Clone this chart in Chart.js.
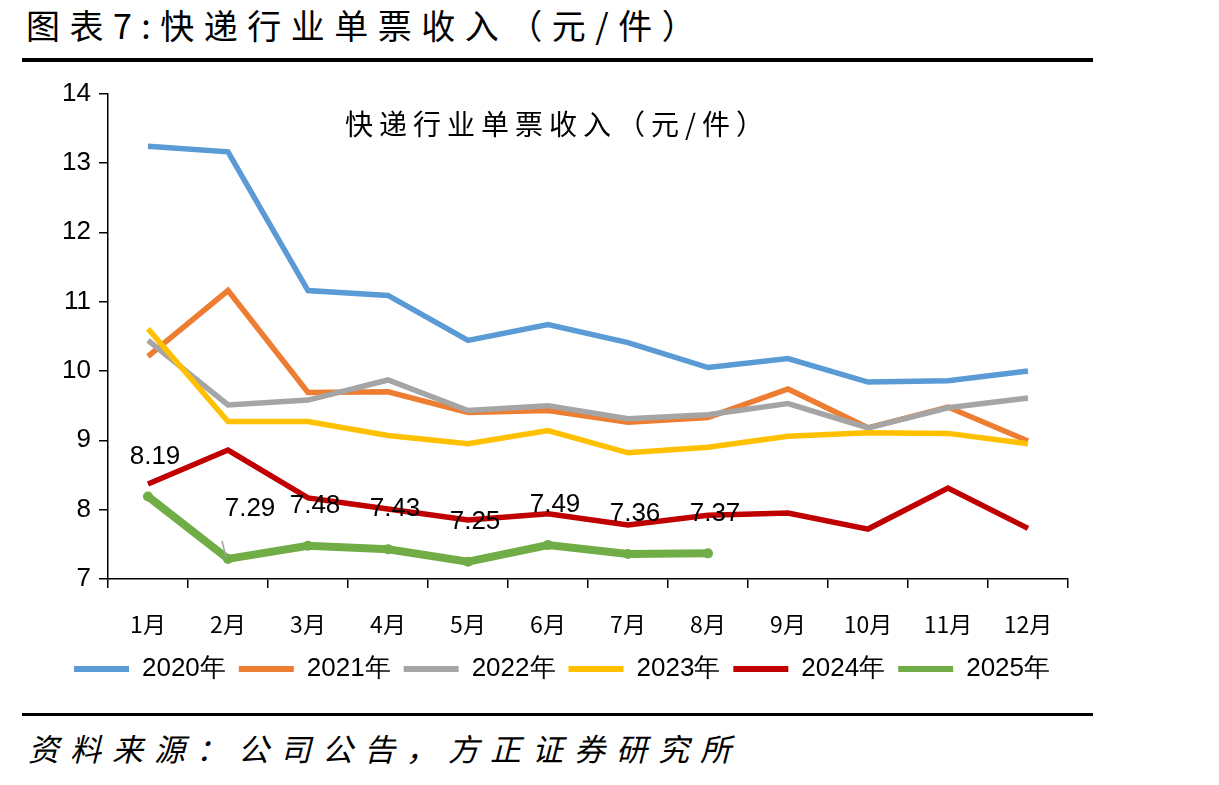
<!DOCTYPE html>
<html>
<head>
<meta charset="utf-8">
<script src="https://cdn.jsdelivr.net/npm/chart.js@4.4.0/dist/chart.umd.min.js"></script>
<style>
    body { margin: 0; background: #fff; width: 1219px; height: 785px; position: relative; overflow: hidden; }
    #titulo { position: absolute; left: 26px; top: 0px; font: 34px "Noto Sans CJK SC"; color: #000; letter-spacing: 9.5px; }
    .regla { position: absolute; left: 22px; width: 1071px; height: 4px; background: #000; }
    #subtitulo { position: absolute; left: 345px; top: 103px; font: 28px "Noto Sans CJK SC"; letter-spacing: 6px; color: #000; }
    #fuente { position: absolute; left: 28px; top: 725px; font: italic 31px "Noto Sans CJK SC"; letter-spacing: 11px; color: #000; }
    #lienzo { position: absolute; left: 0; top: 70px; }
</style>
</head>
<body>
<div id="titulo">图表7:快递行业单票收入（元/件）</div>
<div class="regla" style="top:58px"></div>
<div id="lienzo"><canvas id="grafica-lineal" width="1219" height="622"></canvas></div>
<div id="subtitulo">快递行业单票收入（元/件）</div>
<div class="regla" style="top:713px; height:3px"></div>
<div id="fuente">资料来源：公司公告，方正证券研究所</div>
<script>
// datos
const meses = ["1月", "2月", "3月", "4月", "5月", "6月", "7月", "8月", "9月", "10月", "11月", "12月"]
const anios = ["2020年", "2021年", "2022年", "2023年", "2024年", "2025年"]
const v2020 = [13.24, 13.16, 11.16, 11.09, 10.44, 10.67, 10.41, 10.05, 10.18, 9.84, 9.86, 10.0]
const v2021 = [10.21, 11.16, 9.69, 9.70, 9.40, 9.43, 9.26, 9.33, 9.74, 9.18, 9.48, 8.99]
const v2022 = [10.44, 9.51, 9.58, 9.87, 9.43, 9.50, 9.31, 9.37, 9.53, 9.18, 9.47, 9.61]
const v2023 = [10.61, 9.27, 9.27, 9.07, 8.95, 9.14, 8.82, 8.90, 9.06, 9.11, 9.10, 8.95]
const v2024 = [8.37, 8.86, 8.17, 8.01, 7.85, 7.94, 7.78, 7.92, 7.95, 7.72, 8.31, 7.73]
const v2025 = [8.19, 7.29, 7.48, 7.43, 7.25, 7.49, 7.36, 7.37]
const yTicks = [7, 8, 9, 10, 11, 12, 13, 14]

const colores = ["#5B9BD5", "#ED7D31", "#A5A5A5", "#FFC000", "#C00000", "#70AD47"]
const series = [v2020, v2021, v2022, v2023, v2024, v2025]

const fuenteNum = '"Liberation Sans Narrow", "Liberation Sans", Arial, sans-serif'

// etiquetas de valor para 2025
const etiquetas2025 = {
    id: 'etiquetas2025',
    afterDatasetsDraw(chart) {
        const meta = chart.getDatasetMeta(5)
        const ctx = chart.ctx
        ctx.save()
        ctx.font = '26px ' + fuenteNum
        ctx.fillStyle = '#000'
        ctx.textAlign = 'center'
        ctx.textBaseline = 'middle'
        meta.data.forEach((pt, i) => {
            let dx = 7, dy = -40
            if (i === 1) {
                dx = 22; dy = -50
                ctx.strokeStyle = '#A5A5A5'
                ctx.lineWidth = 1.5
                ctx.beginPath()
                ctx.moveTo(pt.x - 6, pt.y - 18)
                ctx.lineTo(pt.x - 2, pt.y - 2)
                ctx.stroke()
            }
            ctx.fillText(v2025[i].toFixed(2), pt.x + dx, pt.y + dy)
        })
        ctx.restore()
    }
}

const ctx = document.getElementById("grafica-lineal").getContext("2d")

const datasets = anios.map((anio, i) => ({
    label: anio,
    data: series[i],
    borderColor: colores[i],
    backgroundColor: colores[i],
    borderWidth: i === 5 ? 8 : 5.5,
    pointRadius: i === 5 ? 5 : 0,
    pointBorderWidth: 0,
    tension: 0,
    order: 5 - i
}))

const graficaLineal = new Chart(ctx, {
    type: 'line',
    data: { labels: meses, datasets: datasets },
    options: {
        responsive: false,
        animation: false,
        layout: { padding: { left: 56, right: 151, top: 8, bottom: 0 } },
        scales: {
            x: {
                offset: true,
                grid: { offset: true, drawOnChartArea: false, drawTicks: true, tickLength: 9, color: '#000', lineWidth: 1.5 },
                border: { display: true, color: '#000', width: 1.5 },
                ticks: { color: '#000', font: { size: 23, family: '"Noto Sans CJK SC"' }, padding: 22, maxRotation: 0 },
                afterFit(scale) { scale.height = 64 }
            },
            y: {
                min: 7,
                max: 14,
                afterBuildTicks(scale) { scale.ticks = yTicks.map(v => ({ value: v })) },
                grid: { drawOnChartArea: false, drawTicks: true, tickLength: 9, color: '#000', lineWidth: 1.5 },
                border: { display: true, color: '#000', width: 1.5 },
                ticks: { color: '#000', font: { size: 26, family: fuenteNum }, padding: 8 },
                afterFit(scale) { scale.width = 52 }
            }
        },
        plugins: {
            title: { display: false },
            tooltip: { enabled: false },
            legend: {
                position: 'bottom',
                labels: {
                    boxWidth: 55,
                    boxHeight: 6,
                    padding: 13,
                    color: '#000',
                    font: { size: 26, family: fuenteNum },
                    // orden original 2020 -> 2025
                    generateLabels(chart) {
                        return chart.data.datasets.map((d, i) => ({
                            text: d.label,
                            fillStyle: d.borderColor,
                            strokeStyle: d.borderColor,
                            lineWidth: 0,
                            datasetIndex: i,
                            hidden: false
                        }))
                    }
                }
            }
        }
    },
    plugins: [etiquetas2025]
})
</script>
</body>
</html>
